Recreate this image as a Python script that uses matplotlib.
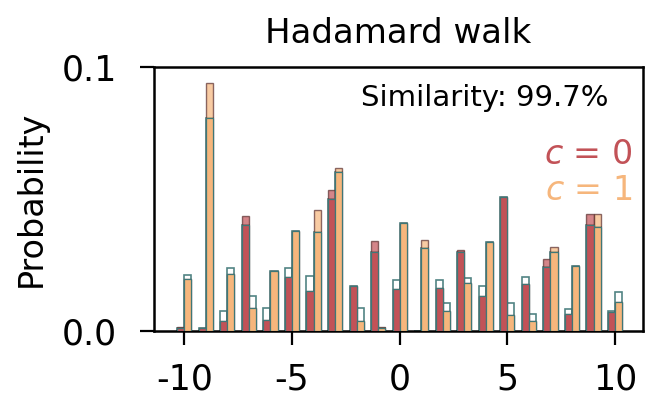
import numpy as np
import matplotlib
matplotlib.use("Agg")
import matplotlib.pyplot as plt

plt.rcParams['axes.unicode_minus'] = False

# walker positions
positions = np.arange(-10, 11)

# coin state c = 0: theory and measured probabilities
c0_theory = [0.0010, 0.0010, 0.0075, 0.0403, 0.0086, 0.0239, 0.0207, 0.0500, 0.0172, 0.0300, 0.0194,
             0.0000, 0.0194, 0.0300, 0.0172, 0.0506, 0.0203, 0.0241, 0.0083, 0.0403, 0.0075]
c0_meas = [0.0015, 0.0010, 0.0039, 0.0437, 0.0042, 0.0203, 0.0153, 0.0534, 0.0172, 0.0342, 0.0159,
           0.0000, 0.0164, 0.0308, 0.0134, 0.0508, 0.0178, 0.0273, 0.0064, 0.0443, 0.0071]

# coin state c = 1: theory and measured probabilities
c1_theory = [0.0213, 0.0806, 0.0237, 0.0131, 0.0227, 0.0380, 0.0375, 0.0601, 0.0086, 0.0010, 0.0410,
             0.0313, 0.0105, 0.0200, 0.0338, 0.0106, 0.0064, 0.0298, 0.0245, 0.0393, 0.0149]
c1_meas = [0.0197, 0.0940, 0.0216, 0.0086, 0.0227, 0.0377, 0.0460, 0.0616, 0.0039, 0.0014, 0.0409,
           0.0345, 0.0077, 0.0180, 0.0338, 0.0061, 0.0039, 0.0317, 0.0245, 0.0443, 0.0111]

similarity = 99.7

red = '#c25257'
orange = '#f6b67c'
edge = '#3f7777'
width = 0.33

fig = plt.figure(figsize=(6.45, 4.0), dpi=100)
ax = fig.add_axes([0.239, 0.1725, 0.758, 0.66])


def draw_pair(xs, theory, meas, color):
    theory = np.array(theory)
    meas = np.array(meas)
    # theory outline
    ax.bar(xs, theory, width, facecolor='white', edgecolor=edge, linewidth=1.2, alpha=0.9, zorder=1)
    # measured (lighter where it overshoots)
    ax.bar(xs, meas, width, facecolor=color, alpha=0.7, edgecolor='#5a2e2e', linewidth=1.0, zorder=2)
    # common part
    ax.bar(xs, np.minimum(theory, meas), width, facecolor=color, edgecolor=edge,
           linewidth=0.9, zorder=3)


draw_pair(positions - width / 2, c0_theory, c0_meas, red)
draw_pair(positions + width / 2, c1_theory, c1_meas, orange)

ax.set_xlim(-11.4, 11.3)
ax.set_ylim(0, 0.1)
ax.set_xticks([-10, -5, 0, 5, 10])
ax.set_yticks([0.0, 0.1])
ax.set_yticklabels(['0.0', '0.1'])
ax.tick_params(labelsize=25, width=1.6, length=10)
ax.tick_params(axis='x', pad=13)
ax.tick_params(axis='y', pad=17)
for s in ax.spines.values():
    s.set_linewidth(1.8)

ax.set_title('Hadamard walk', fontsize=24.5, pad=17)
ax.set_ylabel('Probability', fontsize=24, labelpad=9.5)

ax.text(0.93, 0.883, f'Similarity: {similarity}%', transform=ax.transAxes,
        ha='right', va='center', fontsize=21)
ax.text(0.978, 0.667, '$c$ = 0', transform=ax.transAxes, ha='right', va='center',
        fontsize=24, color=red)
ax.text(0.978, 0.534, '$c$ = 1', transform=ax.transAxes, ha='right', va='center',
        fontsize=24, color=orange)

fig.savefig('out.png', dpi=100)
